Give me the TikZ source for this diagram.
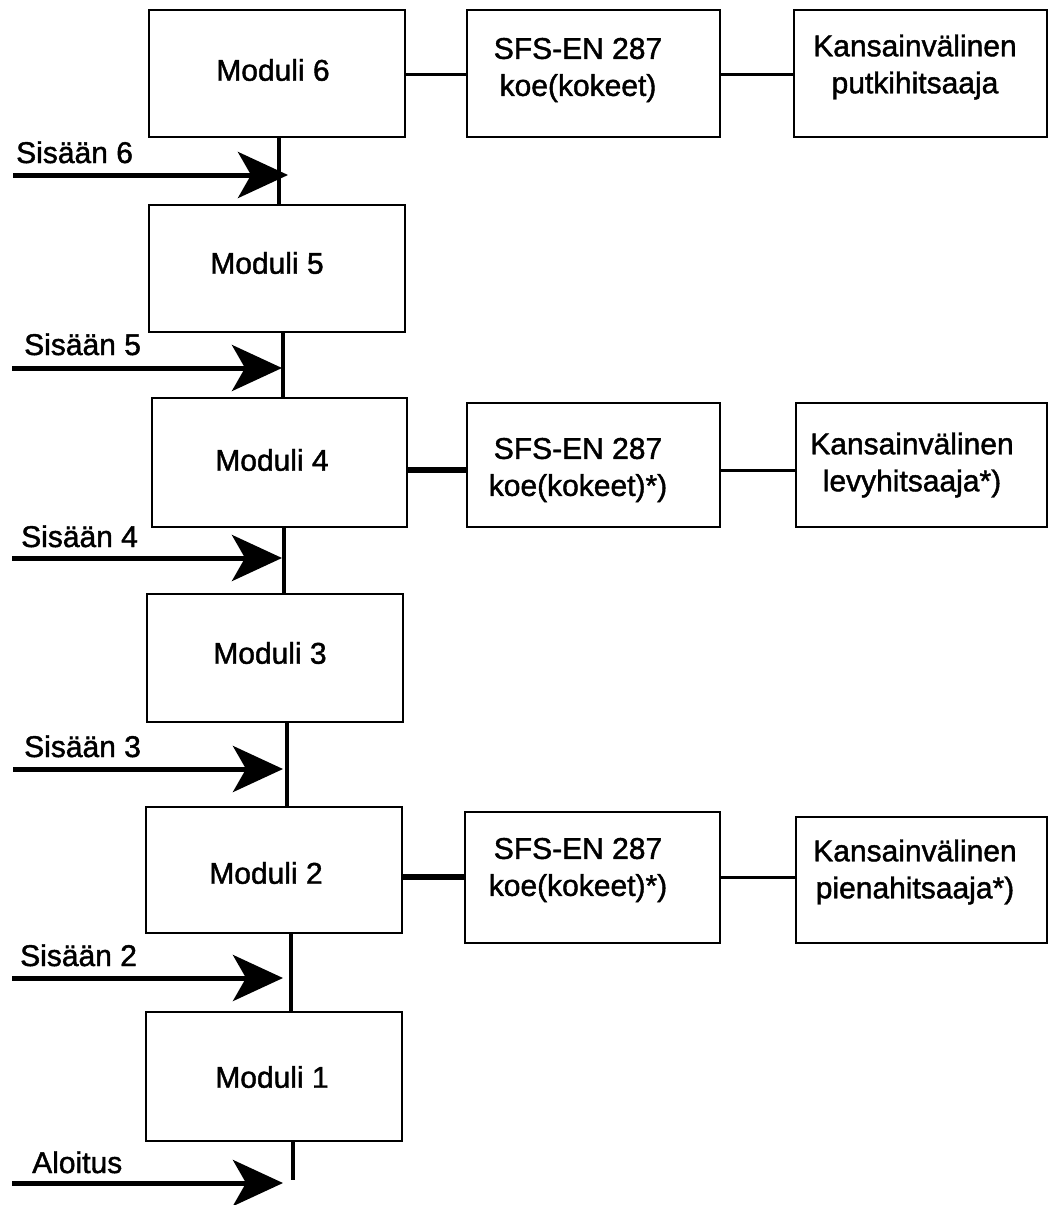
\documentclass[tikz,border=0pt]{standalone}
\usepackage{fontspec}
\setmainfont{Liberation Sans}[FakeBold=1.4]
\usetikzlibrary{arrows.meta}
\begin{document}
\begin{tikzpicture}[x=1pt,y=-1pt,
  box/.style={draw,line width=2pt,inner sep=0pt},
  txt/.style={inner sep=0pt,align=center,font=\fontsize{30}{37}\selectfont},
  lbl/.style={inner sep=0pt,anchor=base west,font=\fontsize{30}{37}\selectfont},
  vline/.style={line width=4.5pt},
  hthin/.style={line width=3pt},
  hthick/.style={line width=5.5pt},
  inarrow/.style={line width=5pt,-{Stealth[length=50pt,width=46pt,inset=13pt]}}]
\fill[white] (0,0) rectangle (1050,1205);
\useasboundingbox (0,0) rectangle (1050,1205);
% module boxes
\node[box,minimum width=256pt,minimum height=127pt] (m6) at (277,73.5) {};
\node[box,minimum width=256pt,minimum height=127pt] (m5) at (277,268.5) {};
\node[box,minimum width=255pt,minimum height=129pt] (m4) at (279.5,462.5) {};
\node[box,minimum width=256pt,minimum height=128pt] (m3) at (275,658) {};
\node[box,minimum width=256pt,minimum height=126pt] (m2) at (274,870) {};
\node[box,minimum width=256pt,minimum height=129pt] (m1) at (274,1076.5) {};
% test boxes
\node[box,minimum width=253pt,minimum height=127pt] (s1) at (593.5,73.5) {};
\node[box,minimum width=253pt,minimum height=127pt] (k1) at (920.5,73.5) {};
\node[box,minimum width=253pt,minimum height=124pt] (s2) at (593.5,465) {};
\node[box,minimum width=251pt,minimum height=124pt] (k2) at (921.5,465) {};
\node[box,minimum width=255pt,minimum height=131pt] (s3) at (592.5,877.5) {};
\node[box,minimum width=251pt,minimum height=126pt] (k3) at (921.5,880) {};
% texts
\node[txt] (m6t) at (273,70) {Moduli 6};
\node[txt] (m5t) at (267,263) {Moduli 5};
\node[txt] (m4t) at (272,460) {Moduli 4};
\node[txt] (m3t) at (270,653) {Moduli 3};
\node[txt] (m2t) at (266,873) {Moduli 2};
\node[txt] (m1t) at (272,1077) {Moduli 1};
\node[txt] (s1t) at (578,70) {SFS-EN 287\\koe(kokeet)};
\node[txt] (k1t) at (915,67) {Kansainvälinen\\putkihitsaaja};
\node[txt] (s2t) at (578,470) {SFS-EN 287\\koe(kokeet)*)};
\node[txt] (k2t) at (912,465) {Kansainvälinen\\levyhitsaaja*)};
\node[txt] (s3t) at (578,870) {SFS-EN 287\\koe(kokeet)*)};
\node[txt] (k3t) at (915,872) {Kansainvälinen\\pienahitsaaja*)};
% input labels
\node[lbl] (l6) at (16,163) {Sisään 6};
\node[lbl] (l5) at (24,355) {Sisään 5};
\node[lbl] (l4) at (21,547) {Sisään 4};
\node[lbl] (l3) at (24,757) {Sisään 3};
\node[lbl] (l2) at (20,966) {Sisään 2};
\node[lbl] (l1) at (32,1173) {Aloitus};
% vertical connector positions
\coordinate (c6) at (279,0);
\coordinate (c5) at (283,0);
\coordinate (c4) at (284,0);
\coordinate (c3) at (287,0);
\coordinate (c2) at (291,0);
\coordinate (c1) at (293,0);
\coordinate (e1) at (293,1180);
\draw[vline] (m6.south -| c6) -- (m5.north -| c6);
\draw[vline] (m5.south -| c5) -- (m4.north -| c5);
\draw[vline] (m4.south -| c4) -- (m3.north -| c4);
\draw[vline] (m3.south -| c3) -- (m2.north -| c3);
\draw[vline] (m2.south -| c2) -- (m1.north -| c2);
\draw[vline] (m1.south -| c1) -- (e1);
% input arrows
\coordinate (a6) at (13,175);  \coordinate (t6) at (288,175);
\coordinate (a5) at (12,368);  \coordinate (t5) at (282,368);
\coordinate (a4) at (12,558);  \coordinate (t4) at (282,558);
\coordinate (a3) at (13,769);  \coordinate (t3) at (283,769);
\coordinate (a2) at (12,978);  \coordinate (t2) at (283,978);
\coordinate (a1) at (12,1183); \coordinate (t1) at (283,1183);
\draw[inarrow] (a6) -- (t6);
\draw[inarrow] (a5) -- (t5);
\draw[inarrow] (a4) -- (t4);
\draw[inarrow] (a3) -- (t3);
\draw[inarrow] (a2) -- (t2);
\draw[inarrow] (a1) -- (t1);
% horizontal connectors
\coordinate (r1) at (0,74);
\coordinate (r2) at (0,470);
\coordinate (r3) at (0,877);
\draw[hthin] (m6.east |- r1) -- (s1.west |- r1);
\draw[hthin] (s1.east |- r1) -- (k1.west |- r1);
\draw[hthick] (m4.east |- r2) -- (s2.west |- r2);
\draw[hthin] (s2.east |- r2) -- (k2.west |- r2);
\draw[hthick] (m2.east |- r3) -- (s3.west |- r3);
\draw[hthin] (s3.east |- r3) -- (k3.west |- r3);
\end{tikzpicture}
\end{document}
